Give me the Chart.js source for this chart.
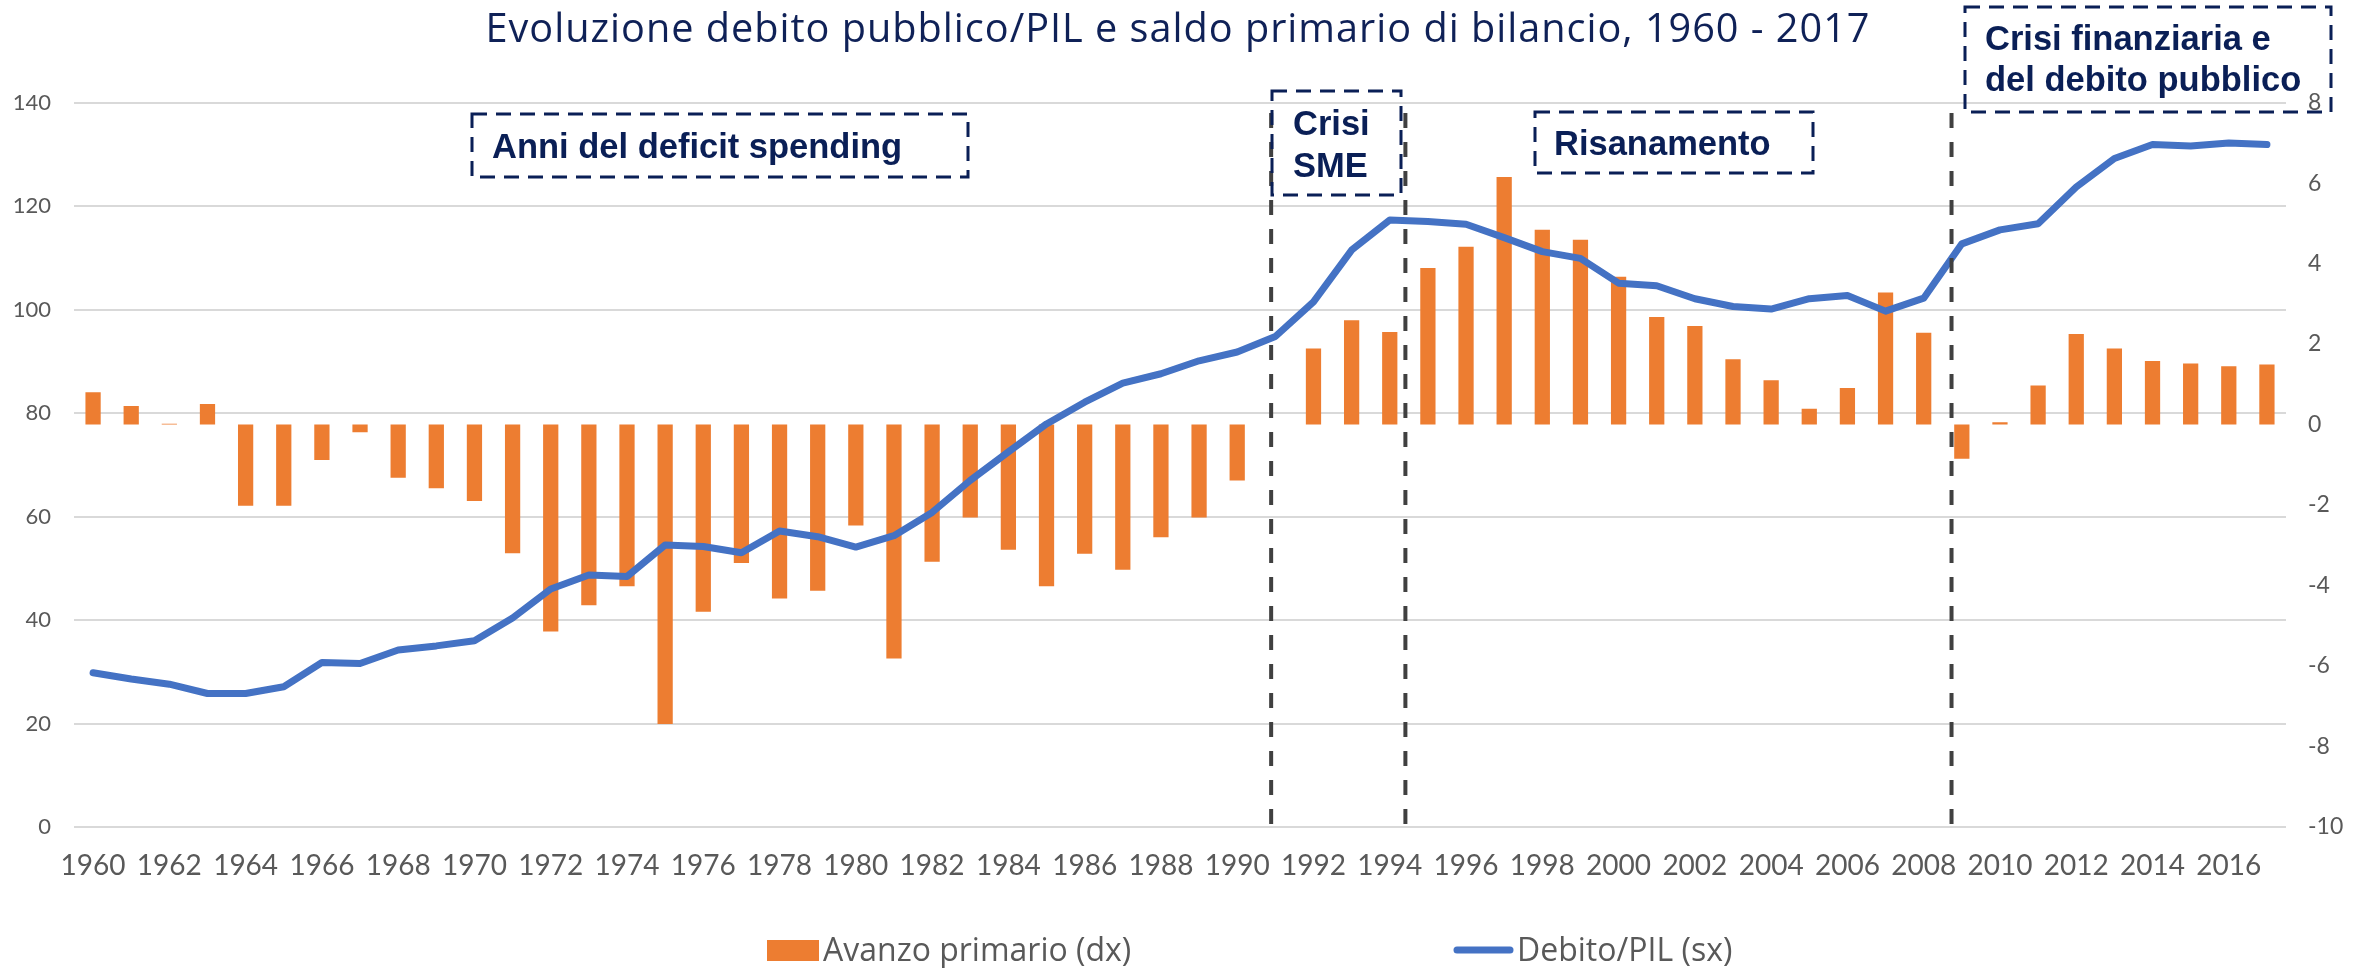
<!DOCTYPE html>
<html>
<head>
<meta charset="utf-8">
<script src="https://cdn.jsdelivr.net/npm/chart.js@4.4.1/dist/chart.umd.min.js"></script>
<style>
html,body{margin:0;padding:0;background:#ffffff;}
canvas{display:block;}
</style>
</head>
<body>
<canvas id="c" width="2366" height="968"></canvas>
<script>
const chartTitle = 'Evoluzione debito pubblico/PIL e saldo primario di bilancio, 1960 - 2017';

const years = ['1960','1961','1962','1963','1964','1965','1966','1967','1968','1969',
  '1970','1971','1972','1973','1974','1975','1976','1977','1978','1979',
  '1980','1981','1982','1983','1984','1985','1986','1987','1988','1989',
  '1990','1991','1992','1993','1994','1995','1996','1997','1998','1999',
  '2000','2001','2002','2003','2004','2005','2006','2007','2008','2009',
  '2010','2011','2012','2013','2014','2015','2016','2017'];

// Avanzo primario (% PIL), asse destro
const avanzoPrimario = [0.80,0.46,0.02,0.51,-2.02,-2.02,-0.88,-0.19,-1.32,-1.58,
  -1.90,-3.20,-5.14,-4.49,-4.02,-7.44,-4.65,-3.44,-4.32,-4.13,
  -2.51,-5.81,-3.41,-2.31,-3.11,-4.02,-3.21,-3.61,-2.80,-2.31,
  -1.39,0.00,1.89,2.59,2.30,3.89,4.42,6.15,4.84,4.59,
  3.67,2.67,2.45,1.62,1.10,0.39,0.91,3.28,2.28,-0.85,
  0.06,0.97,2.25,1.89,1.58,1.52,1.45,1.49];

// Debito/PIL (%), asse sinistro
const debitoPil = [29.8,28.6,27.6,25.8,25.8,27.1,31.8,31.6,34.2,35.0,
  36.0,40.4,46.0,48.7,48.4,54.5,54.2,53.0,57.2,56.1,
  54.1,56.3,60.8,67.0,72.5,77.9,82.1,85.8,87.6,90.1,
  91.8,94.8,101.5,111.5,117.3,117.0,116.5,113.9,111.2,109.9,
  105.1,104.6,102.1,100.6,100.1,102.1,102.7,99.7,102.2,112.7,
  115.4,116.6,123.7,129.2,131.9,131.6,132.2,131.9];

const leftTicks = [0,20,40,60,80,100,120,140];
const rightTicks = [-10,-8,-6,-4,-2,0,2,4,6,8];

const seriesLabels = ['Avanzo primario (dx)', 'Debito/PIL (sx)'];

// period separators (fractional year positions)
const breakYears = [1990.89, 1994.41, 2008.73];
const periodTexts = [
  ['Anni del deficit spending'],
  ['Crisi', 'SME'],
  ['Risanamento'],
  ['Crisi finanziaria e', 'del debito pubblico']
];

// layout of annotation boxes (pixels)
const boxLayout = [
  {x:472,  y:114, w:496, h:63,  tx:492,  ty:[158]},
  {x:1272, y:91,  w:129, h:104, tx:1293, ty:[135,177]},
  {x:1535, y:112, w:278, h:61,  tx:1554, ty:[155]},
  {x:1965, y:7,   w:366, h:105, tx:1985, ty:[50,91]}
];

const ORANGE = '#ED7D31';
const BLUE = '#4472C4';
const NAVY = '#0A1F56';
const GRAY = '#595959';

const overlay = {
  id: 'overlay',
  afterDatasetsDraw(chart) {
    const {ctx, chartArea, scales} = chart;
    const x = scales.x;
    const step = x.getPixelForValue(1) - x.getPixelForValue(0);
    const first = parseInt(years[0], 10);
    ctx.save();
    ctx.strokeStyle = '#404040';
    ctx.lineWidth = 4;
    ctx.setLineDash([15, 14]);
    breakYears.forEach(v => {
      const px = x.getPixelForValue(0) + (v - first) * step;
      ctx.beginPath();
      ctx.moveTo(px, 113);
      ctx.lineTo(px, chartArea.bottom + 5);
      ctx.stroke();
    });
    ctx.restore();
  },
  afterDraw(chart) {
    const ctx = chart.ctx;
    ctx.save();
    // title
    ctx.fillStyle = '#0F2157';
    ctx.font = '40px "Open Sans"';
    ctx.textAlign = 'left';
    ctx.textBaseline = 'alphabetic';
    if ('letterSpacing' in ctx) ctx.letterSpacing = '1px';
    const tw = Math.min(ctx.measureText(chartTitle).width, 1385);
    ctx.fillText(chartTitle, 1178 - tw / 2, 42, 1385);
    if ('letterSpacing' in ctx) ctx.letterSpacing = '0px';

    // period boxes
    boxLayout.forEach((b, i) => {
      ctx.strokeStyle = NAVY;
      ctx.lineWidth = 3;
      ctx.setLineDash([15, 9]);
      ctx.strokeRect(b.x, b.y, b.w, b.h);
      ctx.setLineDash([]);
      ctx.fillStyle = NAVY;
      ctx.font = 'bold 34.5px "Liberation Sans", Arial, sans-serif';
      periodTexts[i].forEach((t, j) => ctx.fillText(t, b.tx, b.ty[j]));
    });

    // legend
    const ds = chart.data.datasets;
    ctx.font = '32px "Open Sans"';
    ctx.fillStyle = ds[0].backgroundColor;
    ctx.fillRect(767, 940, 52, 21);
    ctx.fillStyle = GRAY;
    ctx.fillText(ds[0].label, 823, 961, 316);
    ctx.strokeStyle = ds[1].borderColor;
    ctx.lineWidth = 7;
    ctx.lineCap = 'round';
    ctx.beginPath();
    ctx.moveTo(1457, 950);
    ctx.lineTo(1510, 950);
    ctx.stroke();
    ctx.fillStyle = GRAY;
    ctx.fillText(ds[1].label, 1517, 961, 219);
    ctx.restore();
  }
};

new Chart(document.getElementById('c'), {
  type: 'bar',
  data: {
    labels: years,
    datasets: [
      {
        type: 'bar',
        label: seriesLabels[0],
        data: avanzoPrimario,
        yAxisID: 'y1',
        backgroundColor: ORANGE,
        borderWidth: 0,
        categoryPercentage: 1,
        barPercentage: 0.4,
        order: 1
      },
      {
        type: 'line',
        label: seriesLabels[1],
        data: debitoPil,
        yAxisID: 'y',
        borderColor: BLUE,
        backgroundColor: BLUE,
        borderWidth: 7,
        pointRadius: 0,
        tension: 0,
        borderJoinStyle: 'round',
        borderCapStyle: 'round',
        fill: false,
        order: 0
      }
    ]
  },
  options: {
    responsive: false,
    devicePixelRatio: 1,
    animation: false,
    layout: { padding: { left: 14, right: 20, top: 102.6, bottom: 85.4 } },
    plugins: {
      legend: { display: false },
      title: { display: false },
      tooltip: { enabled: false }
    },
    scales: {
      x: {
        grid: { display: false, drawTicks: false },
        border: { display: false },
        afterFit: axis => { axis.height = 55.6; axis.paddingLeft = 0; axis.paddingRight = 0; },
        ticks: {
          autoSkip: false,
          maxRotation: 0,
          minRotation: 0,
          padding: 22,
          color: GRAY,
          font: { family: 'Lato', size: 28 },
          callback: function(value, index) { return index % 2 === 0 ? this.getLabelForValue(value) : ''; }
        }
      },
      y: {
        position: 'left',
        min: 0,
        max: 140,
        afterBuildTicks: axis => { axis.ticks = leftTicks.map(v => ({value: v})); },
        afterFit: axis => { axis.width = 60; },
        grid: { color: '#D9D9D9', lineWidth: 2, drawTicks: false },
        border: { display: false },
        ticks: { padding: 23, color: GRAY, font: { family: 'Lato', size: 22 } }
      },
      y1: {
        position: 'right',
        min: -10,
        max: 8,
        afterBuildTicks: axis => { axis.ticks = rightTicks.map(v => ({value: v})); },
        afterFit: axis => { axis.width = 60; },
        grid: { display: false, drawTicks: false },
        border: { display: false },
        ticks: { padding: 22, color: GRAY, font: { family: 'Lato', size: 23 } }
      }
    }
  },
  plugins: [overlay]
});
</script>
</body>
</html>
